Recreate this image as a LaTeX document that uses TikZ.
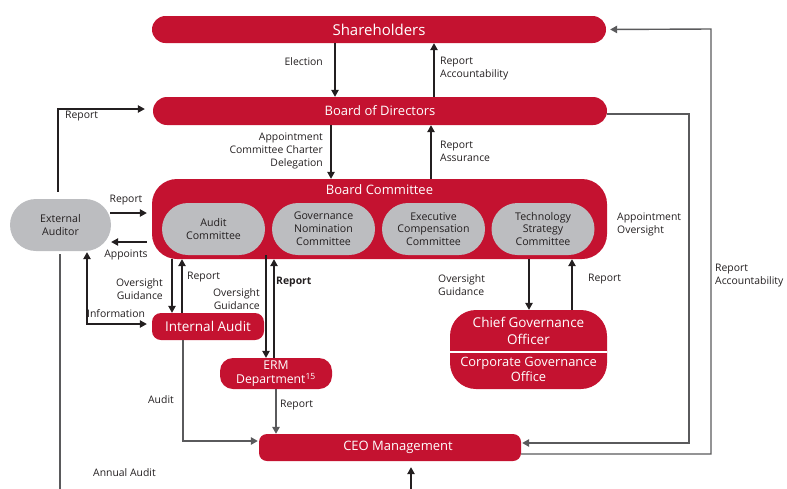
\documentclass[tikz,border=0pt]{standalone}
\usepackage{fontspec}
\setmainfont{Open Sans}
\usetikzlibrary{arrows.meta}
\definecolor{crimson}{RGB}{196,18,48}
\definecolor{pill}{RGB}{188,189,192}
\definecolor{ink}{RGB}{35,31,32}
\definecolor{wire}{RGB}{90,90,92}
\begin{document}
\begin{tikzpicture}[x=1pt,y=-1pt,
  redbox/.style={fill=crimson, text=white, inner sep=0pt, align=center},
  graypill/.style={fill=pill, text=ink, inner sep=0pt, align=center, font=\fontsize{10.6}{12.8}\selectfont},
  lbl/.style={text=ink, inner sep=0pt, font=\fontsize{10.4}{13}\selectfont},
  wtxt/.style={text=white, inner sep=0pt, align=center},
  tip/.style={-{Triangle[length=7pt,width=7.5pt]}},
  arr/.style={draw=ink, line width=1.2pt, tip},
  arrboth/.style={draw=ink, line width=1.2pt, {Triangle[length=7pt,width=7.5pt]}-{Triangle[length=7pt,width=7.5pt]}},
  wirearr/.style={draw=wire, line width=1.4pt, tip},
  wireline/.style={draw=wire, line width=1.4pt}
]
\useasboundingbox (0,0) rectangle (787,488);

% main boxes
\node[redbox, minimum width=454, minimum height=27, rounded corners=13.5, font=\fontsize{15}{18}\selectfont] (sh) at (379,29.5) {Shareholders};
\node[redbox, minimum width=454, minimum height=28, rounded corners=14, font=\fontsize{13}{15}\selectfont] (bod) at (380,111) {Board of Directors};
\node[redbox, minimum width=455, minimum height=80, rounded corners=25] (bc) at (379.5,219) {};
\node[wtxt, font=\fontsize{13}{15}\selectfont] (bct) at (379.5,190) {Board Committee};

\node[graypill, minimum width=103, minimum height=52, rounded corners=26] (ac) at (213.5,229) {Audit\\Committee};
\node[graypill, minimum width=103, minimum height=52, rounded corners=26] (gnc) at (323.5,229) {Governance\\Nomination\\Committee};
\node[graypill, minimum width=103, minimum height=52, rounded corners=26] (ecc) at (433.5,229) {Executive\\Compensation\\Committee};
\node[graypill, minimum width=103, minimum height=52, rounded corners=26] (tsc) at (543,229) {Technology\\Strategy\\Committee};

\node[graypill, minimum width=101, minimum height=52, rounded corners=26] (ea) at (60.5,225) {External\\Auditor};

\node[redbox, minimum width=112, minimum height=27, rounded corners=9, font=\fontsize{13.5}{16}\selectfont] (ia) at (208,326.5) {Internal Audit};
\node[redbox, minimum width=112, minimum height=31, rounded corners=13, font=\fontsize{12.2}{14}\selectfont] (erm) at (276,373.5) {ERM\\Department\textsuperscript{15}};

\node[redbox, minimum width=157, minimum height=79, rounded corners=26] (cgo) at (528.5,349.5) {};
\draw[white, line width=1.6pt] (cgo.west |- 0,352) -- (cgo.east |- 0,352);
\node[wtxt, font=\fontsize{13.5}{17}\selectfont] (cgot) at (528.5,330.5) {Chief Governance\\Officer};
\node[wtxt, font=\fontsize{12.9}{15}\selectfont] (cgob) at (528.5,369.5) {Corporate Governance\\Office};

\node[redbox, minimum width=262, minimum height=27, rounded corners=8] (ceo) at (390,447.5) {};
\node[wtxt, font=\fontsize{13}{15}\selectfont] (ceot) at (398,447) {CEO Management};

% off-page coordinates
\coordinate (offL) at (60,490);
\coordinate (offB) at (411,490);

% connectors
\draw[arr] (335,0 |- sh.south) -- (335,0 |- bod.north);
\draw[arr] (434,0 |- bod.north) -- (434,0 |- sh.south);
\draw[arr] (331,0 |- bod.south) -- (331,0 |- bc.north);
\draw[arr] (431,0 |- bc.north) -- (431,0 |- bod.south);

\draw[arr, shorten <=7pt, shorten >=8pt] (58,0 |- ea.north) |- (bod.west |- 0,109);
\draw[arr, shorten >=5pt] (110,0 |- 0,213) -- (bc.west |- 0,213);
\draw[arr, shorten <=5pt] (bc.west |- 0,242) -- (ea.east |- 0,242);
\draw[arrboth, shorten <=1pt, shorten >=5pt] (87,0 |- ea.south) |- (ia.west |- 0,324);

\draw[arr] (172,0 |- bc.south) -- (172,0 |- ia.north);
\draw[arr] (182,0 |- ia.north) -- (182,0 |- bc.south);
\draw[arr] (266,0 |- ac.south) -- (266,0 |- erm.north);
\draw[arr] (274,0 |- erm.north) -- (274,0 |- bc.south);
\draw[arr] (529,0 |- bc.south) -- (529,0 |- cgo.north);
\draw[arr] (572,0 |- cgo.north) -- (572,0 |- bc.south);

\draw[wirearr, shorten >=1pt] (bod.east |- 0,114) -| (689,443) -- (ceo.east |- 0,443);
\draw[wirearr, shorten >=4pt] (ceo.east |- 0,454) -| (711,29) -- (sh.east);
\draw[wirearr, shorten >=1pt] (183,0 |- ia.south) |- (ceo.west |- 0,441);
\draw[wirearr] (276,0 |- erm.south) -- (276,0 |- ceo.north);
\draw[wireline, shorten <=3pt] (60,0 |- ea.south) -- (offL);
\draw[arr, shorten >=6pt] (offB) -- (411,0 |- ceo.south);

% labels
\node[lbl, anchor=east] (l1) at (323,62) {Election};
\node[lbl, anchor=west, align=left] (l2) at (440,68.5) {Report\\Accountability};
\node[lbl, anchor=east, align=right] (l3) at (323,151) {Appointment\\Committee Charter\\Delegation};
\node[lbl, anchor=west, align=left] (l4) at (440,151.5) {Report\\Assurance};
\node[lbl, anchor=west] (l5) at (65,116) {Report};
\node[lbl] (l6) at (126,200) {Report};
\node[lbl] (l7) at (126,255) {Appoints};
\node[lbl, anchor=east, align=right] (l8) at (163,289.5) {Oversight\\Guidance};
\node[lbl, anchor=west] (l9) at (187,277) {Report};
\node[lbl, anchor=west] (l10) at (87,314) {Information};
\node[lbl, anchor=east, align=right] (l11) at (260,299.5) {Oversight\\Guidance};
\node[lbl, anchor=west, font=\fontsize{10.4}{13}\selectfont\bfseries] (l12) at (276,282) {Report};
\node[lbl, anchor=west, align=left] (l13) at (438,285.5) {Oversight\\Guidance};
\node[lbl, anchor=west] (l14) at (588,279) {Report};
\node[lbl, anchor=west, align=left] (l15) at (617,224.5) {Appointment\\Oversight};
\node[lbl, anchor=west, align=left] (l16) at (715,275.5) {Report\\Accountability};
\node[lbl, anchor=east] (l17) at (174,400) {Audit};
\node[lbl, anchor=west] (l18) at (280,405) {Report};
\node[lbl, anchor=west] (l19) at (93,473) {Annual Audit};
\end{tikzpicture}
\end{document}
